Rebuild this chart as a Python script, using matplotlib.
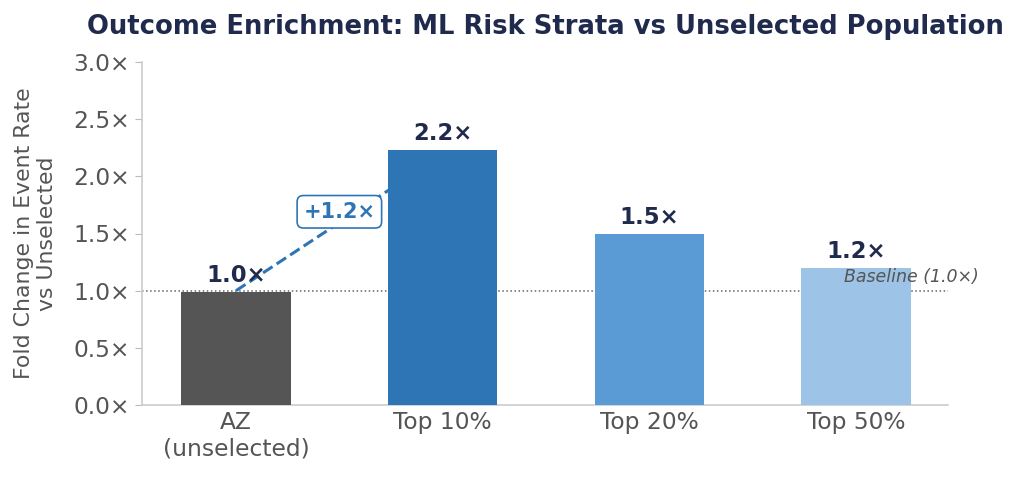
import matplotlib.pyplot as plt

# 数据
categories = ['AZ\n(unselected)', 'Top 10%', 'Top 20%', 'Top 50%']
fold_change = [0.99, 2.23, 1.50, 1.20]
value_labels = ['1.0×', '2.2×', '1.5×', '1.2×']
bar_colors = ['#555555', '#2E75B6', '#5B9BD5', '#9DC3E6']
y_ticks = [0.0, 0.5, 1.0, 1.5, 2.0, 2.5, 3.0]

navy = '#1F2A4D'
gray = '#555555'

plt.rcParams['font.family'] = ['DejaVu Sans']

fig = plt.figure(figsize=(10.24, 4.79), dpi=100)
ax = fig.add_axes([142 / 1024, 1 - 405 / 479, (948 - 142) / 1024, (405 - 62) / 479])

x = list(range(len(categories)))
ax.bar(x, fold_change, width=0.53, color=bar_colors, zorder=3)

# 基线
ax.axhline(1.0, color='#666666', linestyle=':', linewidth=1.1, zorder=1)
ax.text(2.94, 1.12, 'Baseline (1.0×)', fontsize=12.5, style='italic',
        color=gray, ha='left', va='center', zorder=5)

# 数值标签
for xi, v, lab in zip(x, fold_change, value_labels):
    ax.text(xi, v + 0.04, lab, ha='center', va='bottom', fontsize=16.4,
            fontweight='bold', color=navy, zorder=5)

# AZ -> Top 10% 连线 (藏在柱子后面)
ax.plot([0, 1], [1.0, fold_change[1] - 0.04], linestyle='--', color='#2E75B6',
        linewidth=2.2, dash_capstyle='butt', zorder=2)
ax.text(0.5, 1.69, '+1.2×', ha='center', va='center', fontsize=15,
        fontweight='bold', color='#2E75B6', zorder=4,
        bbox=dict(boxstyle='round,pad=0.3', facecolor='white',
                  edgecolor='#2E75B6', linewidth=1.2))

ax.set_xlim(-0.455, 3.445)
ax.set_ylim(0, 3.0)
ax.set_yticks(y_ticks)
ax.set_yticklabels([f'{t:.1f}×' for t in y_ticks])
ax.set_xticks(x)
ax.set_xticklabels(categories)
ax.tick_params(axis='both', labelsize=16.8, colors=gray, length=5, color='#BBBBBB')
ax.tick_params(axis='x', length=0, pad=4)

ax.set_ylabel('Fold Change in Event Rate\nvs Unselected', fontsize=15.8,
              color=gray, labelpad=12)

for s in ['top', 'right']:
    ax.spines[s].set_visible(False)
for s in ['left', 'bottom']:
    ax.spines[s].set_color('#CCCCCC')
    ax.spines[s].set_linewidth(1.2)

fig.text(545 / 1024, 1 - 27 / 479,
         'Outcome Enrichment: ML Risk Strata vs Unselected Population',
         ha='center', va='center', fontsize=18.6, fontweight='bold', color=navy)

plt.savefig('out.png', dpi=100)
